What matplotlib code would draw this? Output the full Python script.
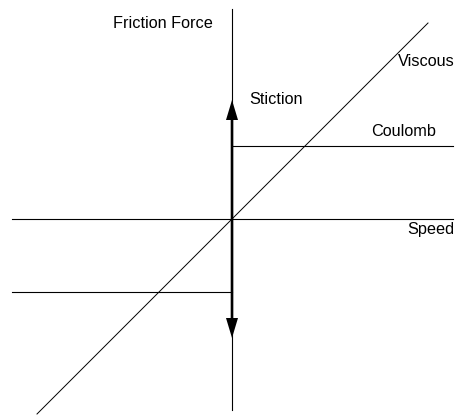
import matplotlib

matplotlib.use("Agg")
import matplotlib.pyplot as plt

# friction model, in pixel-ish units with origin at the axis crossing
speed_range = [-220, 221]
force_range = [-191, 210]
viscous_x = [-195, 196]
viscous_slope = 1.0
coulomb = 73
stiction = 119

plt.rcParams["font.family"] = ["Liberation Sans", "DejaVu Sans"]

fig = plt.figure(figsize=(4.57, 4.15), dpi=100)
ax = fig.add_axes([0, 0, 1, 1])
ax.set_xlim(-232, 225)
ax.set_ylim(-196, 219)
ax.axis("off")

ink = "black"
# axes
ax.plot(speed_range, [0, 0], color=ink, lw=0.8)
ax.plot([0, 0], force_range, color=ink, lw=0.8)

# viscous
ax.plot(viscous_x, [viscous_slope * v for v in viscous_x], color=ink, lw=0.7)

# coulomb
ax.plot([0, speed_range[1]], [coulomb, coulomb], color=ink, lw=0.8)
ax.plot([speed_range[0], 0], [-coulomb, -coulomb], color=ink, lw=0.8)

# stiction arrows
for sgn in (1, -1):
    ax.arrow(0, 0, 0, sgn * stiction, width=2.6, head_width=12, head_length=20,
             length_includes_head=True, color=ink, lw=0)

fs = 11.7
ax.text(-19, 195, "Friction Force", ha="right", va="center", fontsize=fs)
ax.text(166, 158, "Viscous", ha="left", va="center", fontsize=fs)
ax.text(17, 119, "Stiction", ha="left", va="center", fontsize=fs)
ax.text(139, 88, "Coulomb", ha="left", va="center", fontsize=fs)
ax.text(222, -10, "Speed", ha="right", va="center", fontsize=fs)

fig.savefig("out.png", dpi=100, facecolor="white")
